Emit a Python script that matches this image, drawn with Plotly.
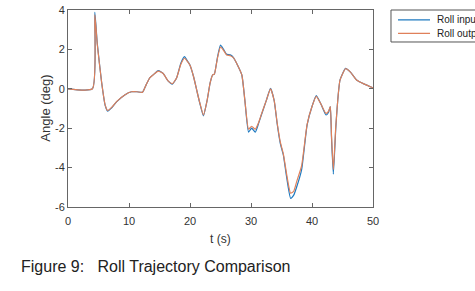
import plotly.graph_objects as go

t = [0, 4.0, 4.4, 4.8, 5.5, 6.1, 6.5, 7.2, 8.0, 9.3, 10.4, 11.3, 12.2, 12.8, 13.4, 14.0, 14.8,
     15.6, 16.4, 17.1, 17.8, 18.5, 19.1, 19.6, 20.0, 20.6, 21.2, 21.6, 22.2, 22.8, 23.3,
     23.7, 24.0, 24.5, 25.0, 25.5, 26.0, 26.6, 27.1, 27.8, 28.5, 29.0, 29.6, 30.1, 30.7,
     31.2, 31.7, 32.5, 33.2, 33.8, 34.3, 34.8, 35.3, 35.8, 36.5, 37.0, 37.5, 38.3, 39.2,
     40.0, 40.7, 41.5, 42.3, 42.7, 43.0, 43.2, 43.5, 43.9, 44.3, 44.6, 45.5, 46.3, 47.3,
     48.5, 50.0]

roll_input = [0, 0, 3.88, 2.3, 0.36, -0.85, -1.13, -0.95, -0.65, -0.31, -0.15, -0.15, -0.18, 0.2,
              0.56, 0.72, 0.92, 0.78, 0.4, 0.24, 0.55, 1.3, 1.63, 1.4, 1.2, 0.6, -0.2, -0.72,
              -1.37, -0.6, 0.3, 0.7, 0.75, 1.6, 2.22, 2.0, 1.75, 1.72, 1.6, 1.2, 0.7, -0.6,
              -2.2, -2.0, -2.2, -1.8, -1.33, -0.6, 0.02, -0.6, -1.8, -2.77, -3.36, -4.4,
              -5.56, -5.4, -4.97, -4.1, -1.83, -0.9, -0.35, -0.8, -1.33, -1.2, -0.9, -2.5,
              -4.33, -2.0, -0.3, 0.45, 1.04, 0.85, 0.45, 0.25, 0.05]

roll_output = [0, 0, 3.75, 2.25, 0.36, -0.83, -1.1, -0.93, -0.64, -0.31, -0.15, -0.15, -0.18, 0.2,
               0.56, 0.72, 0.9, 0.78, 0.4, 0.26, 0.55, 1.25, 1.55, 1.38, 1.2, 0.6, -0.2, -0.7,
               -1.33, -0.6, 0.3, 0.7, 0.75, 1.55, 2.12, 1.95, 1.72, 1.68, 1.58, 1.2, 0.7, -0.6,
               -2.05, -1.9, -2.05, -1.75, -1.3, -0.6, 0.0, -0.6, -1.75, -2.7, -3.3, -4.25,
               -5.3, -5.2, -4.7, -3.9, -1.8, -0.9, -0.38, -0.8, -1.25, -1.15, -0.9, -2.4,
               -4.1, -1.9, -0.3, 0.45, 1.02, 0.85, 0.45, 0.25, 0.05]

series_names = ["Roll input", "Roll output"]
series_colors = ["#1f7ac0", "#e0805a"]
x_ticks = [0, 10, 20, 30, 40, 50]
y_ticks = [-6, -4, -2, 0, 2, 4]
y_tick_text = ["-6", "-4", "-2", "0", "2", "4"]

fig = go.Figure()
for name, ys, col in zip(series_names, [roll_input, roll_output], series_colors):
    fig.add_trace(go.Scatter(x=t, y=ys, mode="lines", name=name, showlegend=False,
                             line=dict(color=col, width=1.2, shape="spline", smoothing=0.5)))

axis_common = dict(showline=True, linecolor="#666666", linewidth=1, mirror="ticks",
                   ticks="inside", ticklen=4, tickcolor="#666666", showgrid=False,
                   zeroline=False, tickfont=dict(family="Liberation Sans, Arial", size=11, color="#333333"))

fig.update_xaxes(range=[0, 50], tickvals=x_ticks, ticklabelstandoff=4, **axis_common)
fig.update_yaxes(range=[-6, 4], tickvals=y_ticks, ticktext=y_tick_text, **axis_common)

# manual legend (MATLAB style, clipped by the figure edge as in the reference)
legend_shapes = [dict(type="rect", xref="paper", yref="paper", x0=1.059, x1=1.36, y0=0.8376, y1=1.0,
                      line=dict(color="#555555", width=1), fillcolor="white", layer="above")]
legend_ann = []
for i, (name, col) in enumerate(zip(series_names, series_colors)):
    yy = 0.95 - i * 0.069
    legend_shapes.append(dict(type="line", xref="paper", yref="paper", x0=1.082, x1=1.187,
                              y0=yy, y1=yy, line=dict(color=col, width=1.2), layer="above"))
    legend_ann.append(dict(text=name, xref="paper", yref="paper", x=1.203, y=yy, xanchor="left",
                           yanchor="middle", showarrow=False, font=dict(size=10, color="#222222")))

fig.update_layout(
    width=475, height=291,
    margin=dict(l=68, r=102, t=10, b=84, autoexpand=False),
    paper_bgcolor="white", plot_bgcolor="white",
    font=dict(family="Liberation Sans, Arial", color="#333333"),
    showlegend=False,
    shapes=legend_shapes,
    annotations=legend_ann + [
        dict(text="t (s)", xref="paper", yref="paper", x=0.5, y=-0.16, xanchor="center",
             yanchor="middle", showarrow=False, font=dict(size=12, color="#333333")),
        dict(text="Angle (deg)", xref="paper", yref="paper", x=-0.075, y=0.5, xanchor="center",
             yanchor="middle", textangle=-90, showarrow=False, font=dict(size=13, color="#333333")),
        dict(text="Figure 9:&nbsp;&nbsp;&nbsp;Roll Trajectory Comparison", xref="paper", yref="paper",
             x=-0.1607, y=-0.2995, xanchor="left", yanchor="middle", showarrow=False,
             font=dict(size=16, color="#222222")),
    ],
)

fig.write_html("out.html", config={"displayModeBar": False},
               post_script="document.body.style.margin='0';")
